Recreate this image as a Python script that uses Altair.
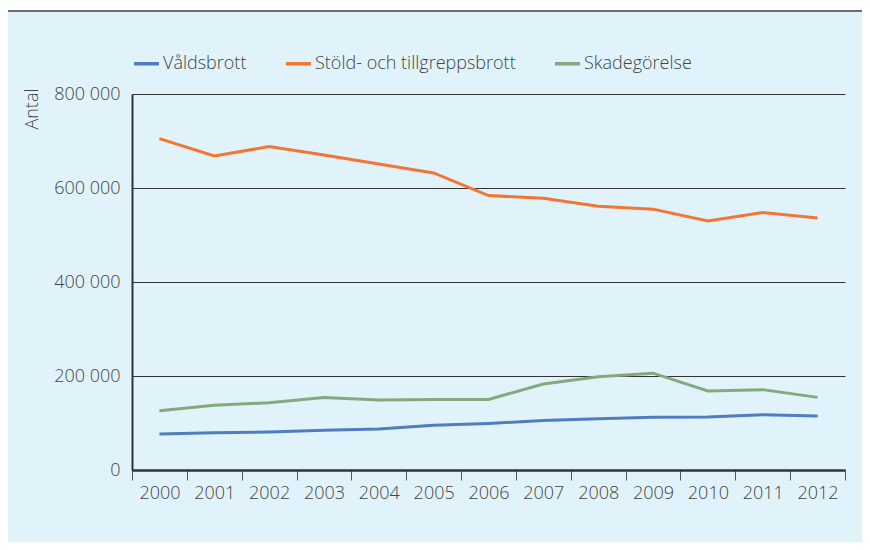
import altair as alt
import pandas as pd

years = [str(y) for y in range(2000, 2013)]
series_names = ["Våldsbrott", "Stöld- och tillgreppsbrott", "Skadegörelse"]
valdsbrott = [76500, 79000, 81000, 84500, 87000, 95000, 99000, 105500, 109000, 112000, 113000, 117500, 115000]
stold = [705000, 668000, 688000, 670000, 651000, 632000, 584000, 578000, 561000, 555000, 530000, 548000, 536000]
skade = [126000, 138000, 143000, 154500, 149000, 150000, 150000, 183000, 198500, 206000, 168000, 171000, 154500]
y_ticks = [0, 200000, 400000, 600000, 800000]
colors = ["#4F7DBF", "#F47532", "#82AA7E"]

rows = []
for name, vals in zip(series_names, [valdsbrott, stold, skade]):
    for yr, v in zip(years, vals):
        rows.append({"year": yr, "serie": name, "antal": v})
df = pd.DataFrame(rows)

FONT = "Open Sans"
TXT = "#444444"

lines = alt.Chart(df).mark_line(strokeWidth=3).encode(
    x=alt.X("year:O", bandPosition=0.5,
            scale=alt.Scale(type="band", paddingInner=0, paddingOuter=0),
            axis=alt.Axis(title=None, labelAngle=0, tickBand="extent", ticks=True,
                          tickSize=10, tickColor="#555555", tickWidth=1,
                          domainColor="#333333", domainWidth=2.5,
                          labelFont=FONT, labelFontSize=18, labelColor=TXT,
                          labelFontWeight=300, labelPadding=4, grid=False)),
    y=alt.Y("antal:Q", scale=alt.Scale(domain=[0, 800000], nice=False),
            axis=alt.Axis(values=y_ticks, title="Antal",
                          labelExpr="datum.value == 0 ? '0' : format(datum.value/1000, 'd') + ' 000'",
                          labelFont=FONT, labelFontSize=18, labelColor=TXT, labelFontWeight=300,
                          labelPadding=12, ticks=False,
                          domainColor="#333333", domainWidth=2,
                          grid=True, gridColor="#333333", gridWidth=1,
                          titleFont=FONT, titleFontSize=18, titleFontWeight=300, titleColor=TXT,
                          titleAngle=270, titleAlign="right", titleBaseline="alphabetic",
                          titleX=-95, titleY=-6)),
    color=alt.Color("serie:N", scale=alt.Scale(domain=series_names, range=colors),
                    legend=alt.Legend(title=None, orient="none", direction="horizontal",
                                      legendX=0, legendY=-45, symbolType="stroke",
                                      symbolSize=625, symbolStrokeWidth=3.5,
                                      labelFont=FONT, labelFontSize=18, labelColor=TXT,
                                      labelFontWeight=300, labelOffset=2, columnPadding=32,
                                      labelLimit=0, symbolOffset=0)),
)

top_white = alt.Chart(alt.Data(values=[{}])).mark_rect(color="white").encode(
    x=alt.value(-124), x2=alt.value(730), y=alt.value(-86), y2=alt.value(-84))
top_gray = alt.Chart(alt.Data(values=[{}])).mark_rect(color="#6b6b6b").encode(
    x=alt.value(-124), x2=alt.value(730), y=alt.value(-84), y2=alt.value(-82))

chart = alt.layer(lines, top_white, top_gray).properties(
    width=713, height=376,
    padding={"left": 124, "top": 86, "right": 17, "bottom": 72},
    autosize=alt.AutoSizeParams(type="none"),
    background="#E0F3FA",
).configure_view(stroke=None)

chart.save("out.html", embed_options={"renderer": "svg", "actions": False})
